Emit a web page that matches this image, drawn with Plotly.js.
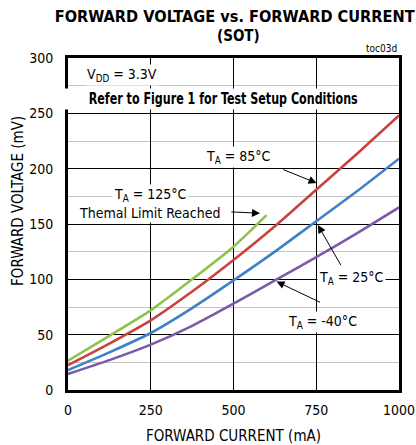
<!DOCTYPE html>
<html>
<head>
<meta charset="utf-8">
<script src="https://cdn.plot.ly/plotly-3.0.1.min.js"></script>
<style>html,body{margin:0;padding:0;background:#fff;}#chart{width:416px;height:445px;}</style>
</head>
<body>
<div id="chart"></div>
<script>
// Data (mA -> mV)
var currentMain = [0, 125, 250, 375, 500, 625, 750, 875, 1000];
var vMinus40 = [14.5, 27, 41, 58, 78, 99, 120, 142, 165];
var v25 = [18, 34, 51.5, 74, 99, 125, 152.5, 180, 209];
var v85 = [22.5, 42, 63, 89, 117.5, 148, 181, 214, 248];
var current125 = [0, 125, 250, 375, 500, 600];
var v125 = [26.5, 49, 72, 100, 129.5, 158];

var xTicks = [0, 250, 500, 750, 1000];
var yTicks = [0, 50, 100, 150, 200, 250, 300];

var FONT = 'DejaVu Sans Condensed, DejaVu Sans, sans-serif';

function series(x, y, color) {
  return {x: x, y: y, type: 'scatter', mode: 'lines', line: {color: color, width: 2.6, shape: 'spline', smoothing: 0.6}, hoverinfo: 'skip'};
}

var data = [
  series(currentMain, vMinus40, '#7b5ba8'),
  series(currentMain, v25, '#3f80c8'),
  series(currentMain, v85, '#c9423d'),
  series(current125, v125, '#8fc24b')
];

function label(text, x, y, opts) {
  var a = {text: text, x: x, y: y, xref: 'x', yref: 'y', showarrow: false,
    font: {family: FONT, size: 14, color: '#000'}, bgcolor: '#fff', borderpad: 1};
  for (var k in opts) a[k] = opts[k];
  return a;
}
function arrow(x0, y0, x1, y1) {
  return {text: '', x: x1, y: y1, ax: x0, ay: y0, xref: 'x', yref: 'y', axref: 'x', ayref: 'y',
    showarrow: true, arrowhead: 2, arrowsize: 1.6, arrowwidth: 1, arrowcolor: '#000', standoff: 0, startstandoff: 0};
}

var annotations = [
  {text: '<b>FORWARD VOLTAGE vs. FORWARD CURRENT</b>', xref: 'paper', yref: 'paper', x: (235 - 68) / 331, y: (390 - 17) / 332,
    xanchor: 'center', yanchor: 'middle', showarrow: false, font: {family: FONT, size: 15, color: '#000'}},
  {text: '<b>(SOT)</b>', xref: 'paper', yref: 'paper', x: (238 - 68) / 331, y: (390 - 36) / 332,
    xanchor: 'center', yanchor: 'middle', showarrow: false, font: {family: FONT, size: 15, color: '#000'}},
  {text: 'toc03d', xref: 'paper', yref: 'paper', x: (381 - 68) / 331, y: (390 - 48) / 332,
    xanchor: 'center', yanchor: 'middle', showarrow: false, font: {family: FONT, size: 10, color: '#000'}},
  {text: 'FORWARD VOLTAGE (mV)', xref: 'paper', yref: 'paper', x: (18 - 68) / 331, y: (390 - 201) / 332, textangle: -90,
    xanchor: 'center', yanchor: 'middle', showarrow: false, font: {family: FONT, size: 15, color: '#000'}},
  label('V<sub>DD</sub> = 3.3V', 51, 284.6, {xanchor: 'left'}),
  label('<b>Refer to Figure 1 for Test Setup Conditions</b>', 467, 263, {font: {family: FONT, size: 15, color: '#000'}}),
  label('T<sub>A</sub> = 85°C', 515, 210.5, {}),
  label('T<sub>A</sub> = 125°C', 248, 176, {}),
  label('Themal Limit Reached', 245, 160, {}),
  label('T<sub>A</sub> = 25°C', 855, 101, {}),
  label('T<sub>A</sub> = -40°C', 769, 61.7, {}),
  arrow(646, 199.7, 751, 187),
  arrow(489, 161, 580, 159.7),
  arrow(827, 111.4, 755, 149),
  arrow(766, 78.6, 630, 98)
];

var layout = {
  width: 416, height: 445,
  margin: {l: 68, r: 17, t: 58, b: 55},
  paper_bgcolor: '#fff', plot_bgcolor: '#fff',
  showlegend: false,
  xaxis: {range: [0, 1000], tickvals: xTicks, ticktext: xTicks.map(String), showgrid: true, gridcolor: '#000', gridwidth: 1,
    zeroline: false, showline: true, linecolor: '#000', linewidth: 3, mirror: true, ticks: '', ticklabelstandoff: 5,
    tickfont: {family: FONT, size: 14, color: '#000'},
    title: {text: 'FORWARD CURRENT (mA)', font: {family: FONT, size: 15, color: '#000'}, standoff: 14}},
  yaxis: {range: [0, 300], tickvals: yTicks, ticktext: yTicks.map(String), showgrid: true, gridcolor: '#000', gridwidth: 1,
    zeroline: false, showline: true, linecolor: '#000', linewidth: 3, mirror: true, ticks: '', ticklabelstandoff: 9,
    tickfont: {family: FONT, size: 14, color: '#000'},
    minor: {dtick: 25, tick0: 0, showgrid: true, gridcolor: '#c4c4c4', gridwidth: 1, ticks: ''}},
  annotations: annotations
};

function squeeze(prefix, width) {
  var texts = document.querySelectorAll('#chart text');
  texts.forEach(function (t) {
    if (t.textContent.indexOf(prefix) === 0) {
      t.setAttribute('textLength', width);
      t.setAttribute('lengthAdjust', 'spacingAndGlyphs');
    }
  });
}

Plotly.newPlot('chart', data, layout, {displayModeBar: false, staticPlot: true}).then(function () {
  squeeze('FORWARD VOLTAGE vs.', 360);
  squeeze('Refer to Figure', 269);
});
</script>
</body>
</html>
